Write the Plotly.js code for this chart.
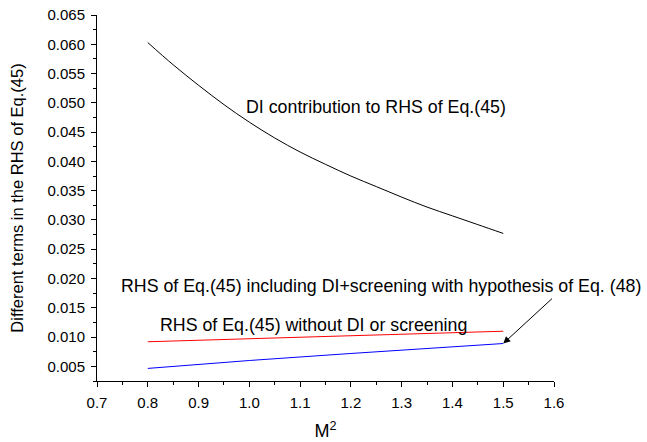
<!DOCTYPE html>
<html>
<head>
<meta charset="utf-8">
<script src="https://cdn.plot.ly/plotly-3.0.1.min.js"></script>
<style>html,body{margin:0;padding:0;background:#fff;}#chart{width:647px;height:442px;}</style>
</head>
<body>
<div id="chart"></div>
<script>
// M^2 values
const m2DI = [0.80, 0.85, 0.90, 0.95, 1.00, 1.05, 1.10, 1.15, 1.20, 1.25, 1.30, 1.35, 1.40, 1.45, 1.50];
// DI contribution to RHS of Eq.(45)
const diContribution = [0.0603, 0.0565, 0.0530, 0.0497, 0.0467, 0.0440, 0.0416, 0.0395, 0.0375, 0.0357, 0.0339, 0.0322, 0.0307, 0.0292, 0.0277];
// RHS without DI or screening
const m2Lines = [0.80, 1.00, 1.20, 1.40, 1.50];
const rhsNoDI = [0.0092, 0.0097, 0.0102, 0.0107, 0.0110];
// RHS including DI + screening
const rhsWithDI = [0.00465, 0.0060, 0.0072, 0.0084, 0.0089];

const labelDI = "DI contribution to RHS of Eq.(45)";
const labelWith = "RHS of Eq.(45) including DI+screening with hypothesis of Eq. (48)";
const labelNo = "RHS of Eq.(45) without DI or screening";

const font = "Liberation Sans, Arial, sans-serif";

const traces = [
  {x: m2DI, y: diContribution, mode: "lines", line: {color: "#000000", width: 1, shape: "spline", smoothing: 1}, showlegend: false},
  {x: m2Lines, y: rhsNoDI, mode: "lines", line: {color: "#ff0000", width: 1}, showlegend: false},
  {x: m2Lines, y: rhsWithDI, mode: "lines", line: {color: "#0000ff", width: 1}, showlegend: false}
];

const axisCommon = {
  showgrid: false, zeroline: false, showline: true, linecolor: "#000", linewidth: 1,
  ticks: "outside", ticklen: 5, tickwidth: 1, tickcolor: "#000",
  tickfont: {family: font, size: 15, color: "#000"}
};

const layout = {
  width: 647, height: 442,
  margin: {l: 97, r: 93, t: 15, b: 61},
  paper_bgcolor: "#fff", plot_bgcolor: "#fff",
  font: {family: font, color: "#000"},
  xaxis: Object.assign({}, axisCommon, {
    range: [0.7, 1.6], dtick: 0.1, tick0: 0.7, tickformat: ".1f", ticklabelstandoff: 3,
    minor: {dtick: 0.05, ticks: "outside", ticklen: 3, tickcolor: "#000"},
    title: {text: "M<sup>2</sup>", font: {family: font, size: 18}, standoff: 14}
  }),
  yaxis: Object.assign({}, axisCommon, {
    range: [0.0025, 0.065], dtick: 0.005, tick0: 0, tickformat: ".3f", ticklabelstandoff: 3,
    minor: {dtick: 0.0025, ticks: "outside", ticklen: 3, tickcolor: "#000"},
    title: {text: "Different terms in the RHS of Eq.(45)", font: {family: font, size: 16.5}, standoff: 19}
  }),
  annotations: [
    {xref: "x", yref: "y", x: 0.99, y: 0.0493, text: labelDI, showarrow: false,
     xanchor: "left", yanchor: "middle", font: {family: font, size: 17.8, color: "#000"}},
    {xref: "x", yref: "y", x: 0.7425, y: 0.0188, text: labelWith, showarrow: false,
     xanchor: "left", yanchor: "middle", font: {family: font, size: 17.8, color: "#000"}},
    {xref: "x", yref: "y", x: 0.82, y: 0.0121, text: labelNo, showarrow: false,
     xanchor: "left", yanchor: "middle", font: {family: font, size: 17.8, color: "#000"}},
    {xref: "x", yref: "y", axref: "x", ayref: "y", x: 1.5, y: 0.0089, ax: 1.599, ay: 0.0168,
     text: "", showarrow: true, arrowhead: 2, arrowsize: 1.4, arrowwidth: 1, arrowcolor: "#000"}
  ]
};

Plotly.newPlot("chart", traces, layout, {displayModeBar: false, staticPlot: true});
</script>
</body>
</html>
